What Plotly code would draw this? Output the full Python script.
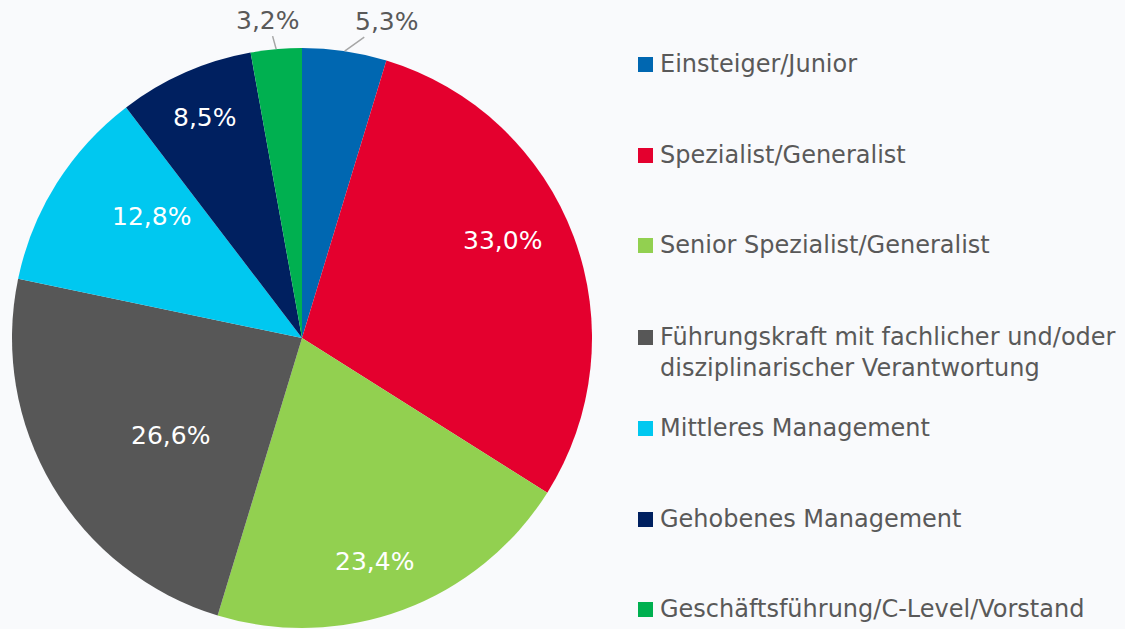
import math
import plotly.graph_objects as go

# data
categories = [
    "Einsteiger/Junior",
    "Spezialist/Generalist",
    "Senior Spezialist/Generalist",
    "Führungskraft mit fachlicher und/oder disziplinarischer Verantwortung",
    "Mittleres Management",
    "Gehobenes Management",
    "Geschäftsführung/C-Level/Vorstand",
]
legend_text = [
    "Einsteiger/Junior",
    "Spezialist/Generalist",
    "Senior Spezialist/Generalist",
    "Führungskraft mit fachlicher und/oder<br>disziplinarischer Verantwortung",
    "Mittleres Management",
    "Gehobenes Management",
    "Geschäftsführung/C-Level/Vorstand",
]
values = [5.3, 33.0, 23.4, 26.6, 12.8, 8.5, 3.2]
colors = ["#0067b1", "#e4002e", "#92d050", "#575757", "#00c8f0", "#002060", "#00b050"]

W, H = 1125, 629
FONT = "DejaVu Sans"
GRAY = "#595959"
BG = "#f9fafc"

# pie geometry in pixels
CX, CY, R = 302, 338, 290


def px_x(x):
    return x / W


def px_y(y):
    return 1 - y / H


labels_txt = [f"{v:.1f}%".replace(".", ",") for v in values]

fig = go.Figure(go.Pie(
    labels=categories,
    values=values,
    text=labels_txt,
    textinfo="none",
    marker=dict(colors=colors, line=dict(width=0)),
    sort=False,
    direction="clockwise",
    rotation=0,
    automargin=False,
    showlegend=False,
    hoverinfo="label+text",
    domain=dict(x=[px_x(CX - R), px_x(CX + R)], y=[px_y(CY + R), px_y(CY - R)]),
))

# data labels ("best fit" style): radial fraction + small angular nudge
# from the slice middle; the small slices get a leader line instead
label_r = [1.0, 0.77, 0.81, 0.565, 0.665, 0.83, 1.0]
label_da = [0, -5.5, 2.4, -5.7, 6.7, 0, 0]
outside_off = {0: (42, -30), 6: (-8, -29)}

total = sum(values)
cum = 0
for i, (v, t) in enumerate(zip(values, labels_txt)):
    mid = (cum + v / 2) / total * 2 * math.pi + math.radians(label_da[i])
    cum += v
    px = CX + R * label_r[i] * math.sin(mid)
    py = CY - R * label_r[i] * math.cos(mid)
    if i in outside_off:
        ax, ay = outside_off[i]
        fig.add_annotation(
            x=px_x(px), y=px_y(py), xref="paper", yref="paper",
            text=t, showarrow=True, arrowhead=0, arrowwidth=1.5,
            arrowcolor="#a6a6a6", ax=ax, ay=ay, standoff=0,
            font=dict(family=FONT, size=25, color=GRAY),
        )
    else:
        fig.add_annotation(
            x=px_x(px), y=px_y(py), xref="paper", yref="paper",
            xanchor="center", yanchor="middle",
            text=t, showarrow=False,
            font=dict(family=FONT, size=25, color="white"),
        )

# legend built by hand (spacing like the original)
row_y = [64, 155, 245, 337, 428, 519, 609]
for name, col, y in zip(legend_text, colors, row_y):
    n = name.count("<br>") + 1
    fig.add_shape(
        type="rect", xref="paper", yref="paper",
        x0=px_x(638), x1=px_x(653), y0=px_y(y + 8), y1=px_y(y - 7),
        fillcolor=col, line=dict(width=0),
    )
    fig.add_annotation(
        x=px_x(658), y=px_y(y + (n - 1) * 15), xref="paper", yref="paper",
        xanchor="left", yanchor="middle", align="left",
        text=name, showarrow=False,
        font=dict(family=FONT, size=24, color=GRAY),
    )

fig.update_layout(
    width=W, height=H,
    margin=dict(l=0, r=0, t=0, b=0),
    paper_bgcolor=BG,
    plot_bgcolor=BG,
    font=dict(family=FONT, color=GRAY),
)

fig.write_html(
    "out.html",
    config={"displayModeBar": False},
    post_script="document.body.style.margin='0';document.body.style.background='%s';" % BG,
)
